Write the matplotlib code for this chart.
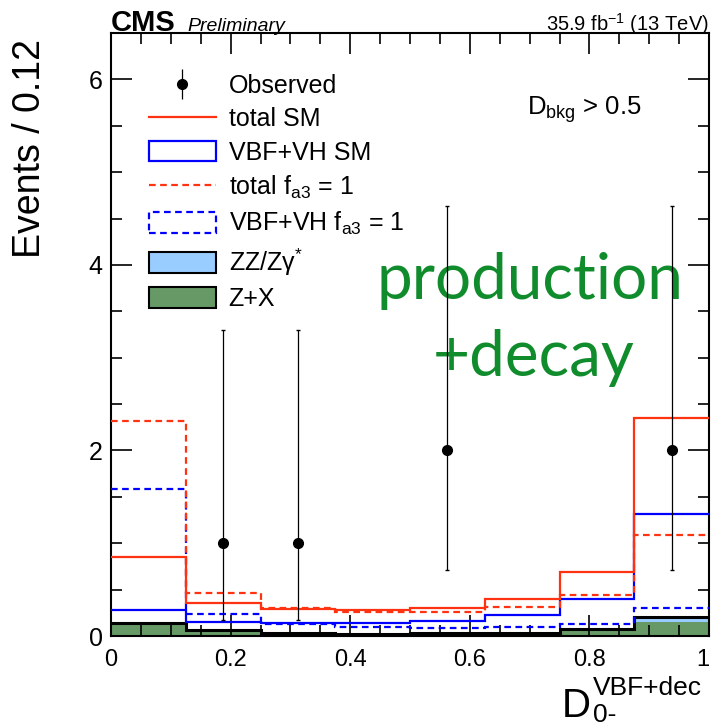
import matplotlib
matplotlib.use("Agg")
import matplotlib.pyplot as plt
from matplotlib.lines import Line2D
from matplotlib.patches import Patch

plt.rcParams['font.family'] = ['Liberation Sans', 'DejaVu Sans']
plt.rcParams['mathtext.fontset'] = 'custom'
plt.rcParams['mathtext.rm'] = 'Liberation Sans'
plt.rcParams['mathtext.it'] = 'Liberation Sans:italic'
plt.rcParams['mathtext.bf'] = 'Liberation Sans:bold'

# binning of D_0-^{VBF+dec}
bin_edges = [0.0, 0.125, 0.25, 0.375, 0.5, 0.625, 0.75, 0.875, 1.0]

# expected yields per bin
total_sm = [0.856, 0.36, 0.295, 0.28, 0.307, 0.40, 0.694, 2.35]
vbfvh_sm = [0.278, 0.15, 0.135, 0.14, 0.16, 0.225, 0.395, 1.32]
total_fa3 = [2.32, 0.465, 0.30, 0.26, 0.255, 0.31, 0.44, 1.09]
vbfvh_fa3 = [1.58, 0.24, 0.13, 0.10, 0.088, 0.095, 0.134, 0.307]
zx_bkg = [0.13, 0.055, 0.025, 0.015, 0.028, 0.028, 0.07, 0.155]
zz_bkg = [0.005, 0.005, 0.003, 0.003, 0.003, 0.004, 0.004, 0.045]

# observed events (empty bins not drawn), Poisson intervals
obs_x = [0.1875, 0.3125, 0.5625, 0.9375]
obs_n = [1, 1, 2, 2]
obs_err_lo = [0.827, 0.827, 1.292, 1.292]
obs_err_hi = [2.299, 2.299, 2.638, 2.638]

RED = '#ff3311'
BLUE = '#0000ff'
GREEN_FILL = '#669966'
LBLUE_FILL = '#99ccff'
TEXT_GREEN = '#118c2d'

W, H = 711, 726
fig = plt.figure(figsize=(W / 100, H / 100), dpi=100)
ax = fig.add_axes([111 / W, 90 / H, 598 / W, 603 / H])

# stacked backgrounds
stack_top = [a + b for a, b in zip(zx_bkg, zz_bkg)]
ax.stairs(stack_top, bin_edges, baseline=zx_bkg, fill=True, color=LBLUE_FILL, zorder=1)
ax.stairs(zx_bkg, bin_edges, fill=True, color=GREEN_FILL, zorder=1)
ax.stairs(stack_top, bin_edges, baseline=None, color='black', lw=2.2, zorder=2)

# signal + total curves
dash = (3, 2)
ax.stairs(vbfvh_fa3, bin_edges, baseline=None, color=BLUE, lw=1.6,
          linestyle=(0, dash), zorder=3)
ax.stairs(vbfvh_sm, bin_edges, baseline=None, color=BLUE, lw=1.6, zorder=3)
ax.stairs(total_fa3, bin_edges, baseline=None, color=RED, lw=1.6,
          linestyle=(0, dash), zorder=4)
ax.stairs(total_sm, bin_edges, baseline=None, color=RED, lw=1.6, zorder=4)

ax.errorbar(obs_x, obs_n, yerr=[obs_err_lo, obs_err_hi], fmt='o',
            color='black', ms=7, elinewidth=0.9, capsize=1.5, zorder=5)

ax.set_xlim(0, 1)
ax.set_ylim(0, 6.5)
ax.set_xticks([0, 0.2, 0.4, 0.6, 0.8, 1.0])
ax.set_xticklabels(['0', '0.2', '0.4', '0.6', '0.8', '1'])
ax.set_xticks([i * 0.05 for i in range(21)], minor=True)
ax.set_yticks([0, 2, 4, 6])
ax.set_yticks([i * 0.5 for i in range(14)], minor=True)
ax.tick_params(which='both', direction='in', top=True, right=True, width=1.2)
ax.tick_params(which='major', length=15)
ax.tick_params(which='minor', length=8)
ax.tick_params(axis='x', pad=9, labelsize=17)
ax.tick_params(axis='y', pad=6, labelsize=18)
# keep the last x label inside the canvas
ax.get_xticklabels()[-1].set_ha('right')
for sp in ax.spines.values():
    sp.set_linewidth(1.5)

ax.set_ylabel('Events / 0.12', fontsize=27)
ax.yaxis.set_label_coords(-0.105, 0.808)

# x-axis title D_{0-}^{VBF+dec}
fig.text(562 / W, 1 - 717 / H, 'D', fontsize=29, ha='left', va='baseline')
fig.text(593 / W, 1 - 695 / H, 'VBF+dec', fontsize=19, ha='left', va='baseline')
fig.text(593 / W, 1 - 722 / H, '0-', fontsize=19, ha='left', va='baseline')

fig.text(111 / W, 1 - 31 / H, 'CMS', fontsize=21, fontweight='bold',
         ha='left', va='baseline')
fig.text(187 / W, 1 - 31 / H, 'Preliminary', fontsize=14,
         style='italic', ha='left', va='baseline')
fig.text(709 / W, 1 - 31 / H, r'35.9 fb$^{\mathregular{-1}}$ (13 TeV)',
         fontsize=14.5, ha='right', va='baseline')

ax.text(0.695, 5.62, r'D$_{\mathregular{bkg}}$ > 0.5', fontsize=18.5, ha='left',
        va='baseline')

ax.text(0.70, 3.63, 'production', fontsize=46, color=TEXT_GREEN,
        family=['Lato', 'DejaVu Sans'], ha='center', va='baseline')
ax.text(0.706, 2.80, '+decay', fontsize=46, color=TEXT_GREEN,
        family=['Lato', 'DejaVu Sans'], ha='center', va='baseline')

obs_handle = (Line2D([], [], color='black', marker='|', ms=22, mew=0.9, lw=0),
              Line2D([], [], color='black', marker='o', ms=7, lw=0))
handles = [
    obs_handle,
    Line2D([], [], color=RED, lw=1.6),
    Patch(facecolor='white', edgecolor=BLUE, lw=1.6),
    Line2D([], [], color=RED, lw=1.6, linestyle=(0, dash)),
    Patch(facecolor='white', edgecolor=BLUE, lw=1.6, linestyle=(0, dash)),
    Patch(facecolor=LBLUE_FILL, edgecolor='black', lw=1.5),
    Patch(facecolor=GREEN_FILL, edgecolor='black', lw=1.5),
]
labels = [
    'Observed',
    'total SM',
    'VBF+VH SM',
    r'total f$_{\mathregular{a3}}$ = 1',
    r'VBF+VH f$_{\mathregular{a3}}$ = 1',
    r'ZZ/Z$\mathregular{\gamma}^{\mathregular{*}}$',
    'Z+X',
]
ax.legend(handles, labels, loc='upper left', bbox_to_anchor=(0.063, 0.932),
          frameon=False, fontsize=18, handlelength=2.7, handleheight=0.9,
          labelspacing=0.37, handletextpad=0.5, borderaxespad=0, borderpad=0)

fig.savefig('out.png', dpi=100)
